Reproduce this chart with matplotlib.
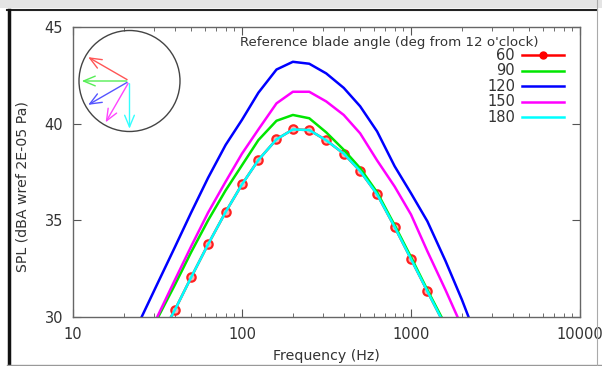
import numpy as np
import matplotlib
matplotlib.use("Agg")
import matplotlib.pyplot as plt
from matplotlib.lines import Line2D
from matplotlib.patches import Circle, Rectangle

# 1/3 octave band centre frequencies (Hz)
freq = [25, 31.5, 40, 50, 63, 80, 100, 125, 160, 200, 250, 315, 400, 500,
        630, 800, 1000, 1250, 1600, 2000, 2500]

# SPL per reference blade angle (dBA)
spl_60 = [27.0, 28.7, 30.35, 32.05, 33.76, 35.43, 36.86, 38.12, 39.19, 39.7, 39.67,
          39.14, 38.45, 37.55, 36.35, 34.66, 33.0, 31.33, 29.5, 27.8, 26.0]
spl_90 = [28.2, 29.9, 31.65, 33.35, 35.0, 36.55, 37.85, 39.15, 40.15, 40.45, 40.28,
          39.55, 38.65, 37.7, 36.45, 34.75, 33.1, 31.4, 29.6, 27.8, 26.0]
spl_120 = [29.85, 31.7, 33.6, 35.4, 37.2, 38.9, 40.2, 41.6, 42.8, 43.2, 43.1,
           42.6, 41.85, 40.9, 39.6, 37.8, 36.4, 34.95, 32.9, 30.9, 28.7]
spl_150 = [28.2, 30.0, 31.9, 33.65, 35.4, 37.0, 38.45, 39.7, 41.05, 41.65, 41.65,
           41.15, 40.45, 39.5, 38.1, 36.75, 35.3, 33.4, 31.4, 29.5, 27.5]
spl_180 = [27.0, 28.7, 30.35, 32.05, 33.76, 35.43, 36.86, 38.12, 39.19, 39.7, 39.67,
           39.14, 38.45, 37.55, 36.35, 34.66, 33.0, 31.33, 29.5, 27.8, 26.0]

angles = [60, 90, 120, 150, 180]
labels = ["60", "90", "120", "150", "180"]
series = [spl_60, spl_90, spl_120, spl_150, spl_180]
colors = ["#ff0000", "#00e600", "#0000ff", "#ff00ff", "#00ffff"]
arrow_colors = ["#ff5555", "#55ee55", "#5555ff", "#ff44ff", "#33ffff"]

W, H = 602, 366
fig = plt.figure(figsize=(W/100, H/100), dpi=100)

def px(x0, y0, w, h):
    # pixel box (top-left origin) -> figure fraction
    return [x0/W, 1-(y0+h)/H, w/W, h/H]

ax = fig.add_axes(px(73, 27, 507, 290))

for i in range(len(series)):
    if labels[i] == "60":
        ax.plot(freq, series[i], color=colors[i], lw=1.8, marker="o", ms=6,
                mec="#ff2020", mfc="#ffb0b0", mew=1.6)
    else:
        ax.plot(freq, series[i], color=colors[i], lw=1.8)

ax.set_xscale("log")
ax.set_xlim(10, 10000)
ax.set_ylim(30, 45)
ax.set_yticks([30, 35, 40, 45])
ax.set_xticks([10, 100, 1000, 10000])
ax.set_xticklabels(["10", "100", "1000", "10000"])
ax.xaxis.set_minor_locator(matplotlib.ticker.LogLocator(base=10, subs=np.arange(2, 10)))
ax.xaxis.set_minor_formatter(matplotlib.ticker.NullFormatter())
ax.tick_params(which="both", direction="in", top=True, right=True,
               color="#555555", labelcolor="#333333", labelsize=10.5)
ax.tick_params(which="major", length=6, pad=7)
ax.tick_params(which="minor", length=3)
for s in ax.spines.values():
    s.set_color("#666666")
    s.set_linewidth(1)

ax.set_xlabel("Frequency (Hz)", fontsize=10.2, color="#333333", labelpad=5)
ax.set_ylabel("SPL (dBA wref 2E-05 Pa)", fontsize=10.2, color="#333333")
ax.yaxis.set_label_coords(-0.085, 0.45)

# key
ax.text(0.329, 0.948, "Reference blade angle (deg from 12 o'clock)", transform=ax.transAxes,
        ha="left", va="center", fontsize=9.6, color="#333333")
for i in range(len(labels)):
    y = 0.903 - i*0.0535
    ax.text(0.872, y, labels[i], transform=ax.transAxes, ha="right", va="center",
            fontsize=10.5, color="#333333")
    ax.plot([0.886, 0.968], [y, y], transform=ax.transAxes, color=colors[i], lw=1.8)
    if labels[i] == "60":
        ax.plot([0.927], [y], transform=ax.transAxes, color=colors[i], marker="o", ms=5)

# blade angle inset
ins = fig.add_axes(px(79, 30.5, 101, 101))
ins.set_xlim(-1, 1)
ins.set_ylim(-1, 1)
ins.set_aspect("equal")
ins.axis("off")
ins.add_patch(Circle((0, 0), 1, fill=False, ec="#444444", lw=1, clip_on=False))
for i in range(len(angles)):
    a = np.radians(angles[i])
    ins.annotate("", xy=(-np.sin(a), np.cos(a)), xytext=(0, 0),
                 arrowprops=dict(arrowstyle="->,head_length=0.6,head_width=0.25",
                                 color=arrow_colors[i], lw=1, mutation_scale=14),
                 annotation_clip=False)

# window frame
fig.add_artist(Rectangle((0, 1-8/H), 1, 8/H, transform=fig.transFigure,
                         color="#e4e4e4", lw=0))
fig.add_artist(Line2D([7/W, 597/W], [1-9.5/H, 1-9.5/H], transform=fig.transFigure,
                      color="#222222", lw=1.5))
fig.add_artist(Line2D([8.5/W, 8.5/W], [0, 1-9.5/H], transform=fig.transFigure,
                      color="#111111", lw=2.5))
fig.add_artist(Line2D([7/W, 1], [1.5/H, 1.5/H], transform=fig.transFigure,
                      color="#999999", lw=1))
fig.add_artist(Line2D([597/W, 597/W], [0, 1], transform=fig.transFigure,
                      color="#aaaaaa", lw=0.8))

fig.savefig("out.png", dpi=100)
